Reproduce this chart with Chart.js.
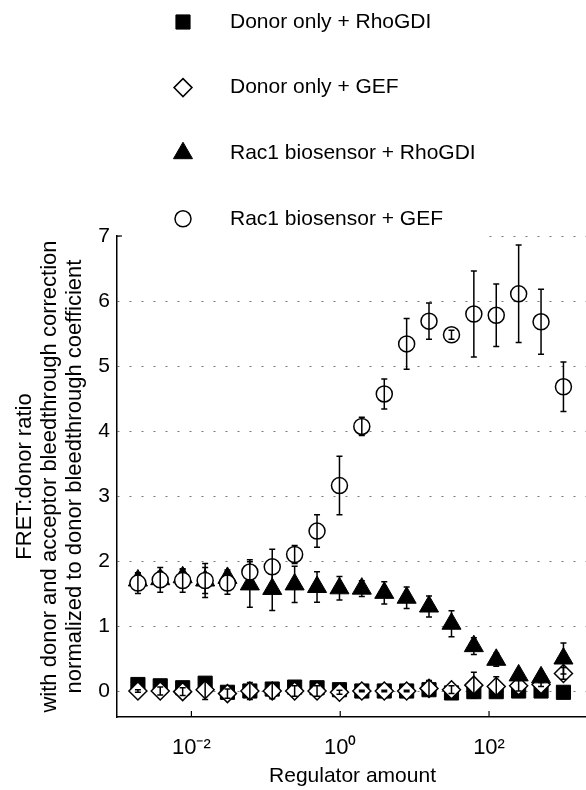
<!DOCTYPE html>
<html>
<head>
<meta charset="utf-8">
<script src="https://cdn.jsdelivr.net/npm/chart.js@4.4.1/dist/chart.umd.min.js"></script>
<style>
  html, body { margin: 0; padding: 0; background: #fff; overflow: hidden; }
  #quadro { width: 586px; height: 790px; overflow: hidden; }
</style>
</head>
<body>
<div id="quadro"><canvas id="grafico" width="600" height="790"></canvas></div>
<script>
// ===============================
//   DATA
// ===============================
const regulatorAmount = [0.00191, 0.00381, 0.00763, 0.0153, 0.0305, 0.061, 0.122, 0.244, 0.488, 0.977,
                         1.95, 3.91, 7.81, 15.6, 31.3, 62.5, 125, 250, 500, 1000];

const seriesNames = ["Donor only + RhoGDI", "Donor only + GEF", "Rac1 biosensor + RhoGDI", "Rac1 biosensor + GEF"];

// Donor only + RhoGDI (filled squares)
const donorRhoGDI    = [0.10, 0.08, 0.05, 0.12, -0.02, 0.00, 0.03, 0.06, 0.05, 0.02,
                        0.00, 0.00, 0.00, 0.02, -0.03, -0.01, -0.01, 0.00, 0.00, -0.02];
const errDonorRhoGDI = [0.03, 0.03, 0.03, 0.04, 0.03, 0.03, 0.03, 0.03, 0.03, 0.03,
                        0.02, 0.02, 0.02, 0.03, 0.03, 0.03, 0.03, 0.03, 0.03, 0.03];

// Donor only + GEF (open diamonds)
const donorGEF    = [0.00, 0.00, -0.01, 0.02, -0.04, 0.00, 0.00, 0.00, 0.00, -0.02,
                     0.00, 0.00, 0.00, 0.04, 0.02, 0.09, 0.07, 0.08, 0.10, 0.27];
const errDonorGEF = [0.02, 0.06, 0.06, 0.15, 0.07, 0.13, 0.12, 0.08, 0.08, 0.03,
                     0.01, 0.01, 0.01, 0.12, 0.06, 0.20, 0.15, 0.08, 0.03, 0.09];

// Rac1 biosensor + RhoGDI (filled triangles)
const rac1RhoGDI    = [1.70, 1.72, 1.75, 1.70, 1.74, 1.64, 1.57, 1.64, 1.60, 1.58,
                       1.575, 1.51, 1.435, 1.30, 1.035, 0.69, 0.48, 0.24, 0.21, 0.50];
const errRac1RhoGDI = [0.12, 0.12, 0.12, 0.26, 0.12, 0.35, 0.33, 0.28, 0.235, 0.18,
                       0.12, 0.17, 0.165, 0.16, 0.20, 0.13, 0.10, 0.05, 0.05, 0.24];

// Rac1 biosensor + GEF (open circles)
const rac1GEF    = [1.66, 1.71, 1.70, 1.70, 1.66, 1.83, 1.91, 2.10, 2.46, 3.16,
                    4.07, 4.57, 5.34, 5.69, 5.48, 5.80, 5.78, 6.11, 5.68, 4.68];
const errRac1GEF = [0.16, 0.19, 0.18, 0.20, 0.17, 0.19, 0.27, 0.14, 0.25, 0.45,
                    0.14, 0.23, 0.39, 0.28, 0.07, 0.66, 0.48, 0.75, 0.50, 0.38];

const yTicks = [0, 1, 2, 3, 4, 5, 6, 7];
const xTicks = [0.01, 1, 100];
const xTickLabels = ["10\u207B\u00B2", "10\u2070", "10\u00B2"];

const yTitle = ["FRET:donor ratio",
                "with donor and acceptor bleedthrough correction",
                "normalized to donor bleedthrough coefficient"];
const xTitle = "Regulator amount";

// ===============================
//   HELPERS / PLUGINS
// ===============================
const fonte = { family: '"Liberation Sans", Arial, sans-serif', size: 21 };
const toPoints = (ys) => regulatorAmount.map((x, i) => ({ x: x, y: ys[i] }));

// error bars drawn right after each dataset's markers
const errorBars = {
  id: "errorBars",
  afterDatasetDraw(chart, args) {
    const ds = chart.data.datasets[args.index];
    if (!ds.errors) return;
    const ctx = chart.ctx;
    const yScale = chart.scales.y;
    ctx.save();
    ctx.strokeStyle = "#000";
    ctx.lineWidth = 1.5;
    args.meta.data.forEach((pt, i) => {
      const v = ds.data[i].y;
      const e = ds.errors[i];
      const top = yScale.getPixelForValue(v + e);
      const bot = yScale.getPixelForValue(v - e);
      ctx.beginPath();
      ctx.moveTo(pt.x, top); ctx.lineTo(pt.x, bot);
      ctx.moveTo(pt.x - 3, top); ctx.lineTo(pt.x + 3, top);
      ctx.moveTo(pt.x - 3, bot); ctx.lineTo(pt.x + 3, bot);
      ctx.stroke();
    });
    ctx.restore();
  }
};

// legend box above the axes (white background hides the top grid line)
const legendBox = {
  id: "legendBox",
  beforeDatasetsDraw(chart) {
    const ctx = chart.ctx;
    const rowTop = 22, rowStep = 65.6, markX = 183, textX = 230;
    ctx.save();
    ctx.fillStyle = "#fff";
    ctx.fillRect(121, 0, 367, 238);
    ctx.font = "21px " + fonte.family;
    ctx.textBaseline = "middle";
    chart.data.datasets.forEach((ds, i) => {
      const y = rowTop + i * rowStep;
      ctx.fillStyle = ds.backgroundColor;
      ctx.strokeStyle = ds.borderColor;
      ctx.lineWidth = ds.borderWidth;
      Chart.helpers.drawPoint(ctx, {
        pointStyle: ds.pointStyle, radius: ds.pointRadius, rotation: 0, borderWidth: ds.borderWidth
      }, markX, y);
      ctx.fillStyle = "#000";
      ctx.fillText(ds.label, textX, y);
    });
    ctx.restore();
  }
};

// MATLAB style ticks pointing into the axes
const ticksInside = {
  id: "ticksInside",
  afterDatasetsDraw(chart) {
    const ctx = chart.ctx;
    const x = chart.scales.x;
    const y = chart.scales.y;
    ctx.save();
    ctx.strokeStyle = "#000";
    ctx.lineWidth = 1.2;
    xTicks.forEach(v => {
      const px = x.getPixelForValue(v);
      ctx.beginPath();
      ctx.moveTo(px, x.top);
      ctx.lineTo(px, x.top - 6);
      ctx.stroke();
    });
    // the top y tick is the only one not hidden by the grid dots
    const pTop = y.getPixelForValue(yTicks[yTicks.length - 1]);
    ctx.beginPath();
    ctx.moveTo(y.right, pTop);
    ctx.lineTo(y.right + 5, pTop);
    ctx.stroke();
    ctx.restore();
  }
};

// ===============================
//   CHART
// ===============================
new Chart(document.getElementById("grafico"), {
  type: "scatter",
  data: {
    datasets: [
      { label: seriesNames[0], data: toPoints(donorRhoGDI), errors: errDonorRhoGDI,
        pointStyle: "rect", pointRadius: 10, pointHoverRadius: 10,
        backgroundColor: "#000", borderColor: "#000", borderWidth: 1, order: 4 },
      { label: seriesNames[1], data: toPoints(donorGEF), errors: errDonorGEF,
        pointStyle: "rectRot", pointRadius: 9, pointHoverRadius: 9,
        backgroundColor: "#fff", borderColor: "#000", borderWidth: 1.5, order: 3 },
      { label: seriesNames[2], data: toPoints(rac1RhoGDI), errors: errRac1RhoGDI,
        pointStyle: "triangle", pointRadius: 11, pointHoverRadius: 11,
        backgroundColor: "#000", borderColor: "#000", borderWidth: 1, order: 2 },
      { label: seriesNames[3], data: toPoints(rac1GEF), errors: errRac1GEF,
        pointStyle: "circle", pointRadius: 8, pointHoverRadius: 8,
        backgroundColor: "#fff", borderColor: "#000", borderWidth: 1.5, order: 1 }
    ]
  },
  options: {
    responsive: false,
    animation: false,
    devicePixelRatio: 1,
    layout: { padding: { top: 236, left: 0, right: 0, bottom: 0 } },
    plugins: {
      legend: { display: false },
      tooltip: { enabled: false }
    },
    scales: {
      x: {
        type: "logarithmic",
        min: 0.001,
        max: 2138,
        afterBuildTicks: (s) => { s.ticks = xTicks.map(v => ({ value: v })); },
        afterFit: (s) => { s.height = 73; },
        ticks: {
          autoSkip: false, maxRotation: 0, color: "#000",
          font: { family: fonte.family, size: 22 }, padding: 18,
          callback: (v) => xTickLabels[xTicks.indexOf(v)]
        },
        grid: { display: false, drawTicks: false },
        border: { display: true, color: "#000", width: 1.5 },
        title: { display: true, text: xTitle, color: "#000", font: fonte, padding: { top: 0, bottom: 1 } }
      },
      y: {
        min: -0.4,
        max: 7,
        afterBuildTicks: (s) => { s.ticks = yTicks.map(v => ({ value: v })); },
        afterFit: (s) => { s.width = 117; },
        ticks: { color: "#000", font: fonte, padding: 7 },
        grid: { color: "#777", lineWidth: 1, drawTicks: false },
        border: { display: true, color: "#000", width: 1.5, dash: [2, 10] },
        title: {
          display: true, text: yTitle, color: "#000",
          font: { family: fonte.family, size: 22, lineHeight: 1.15 },
          padding: { top: 12, bottom: 0 }
        }
      }
    }
  },
  plugins: [legendBox, errorBars, ticksInside]
});
</script>
</body>
</html>
